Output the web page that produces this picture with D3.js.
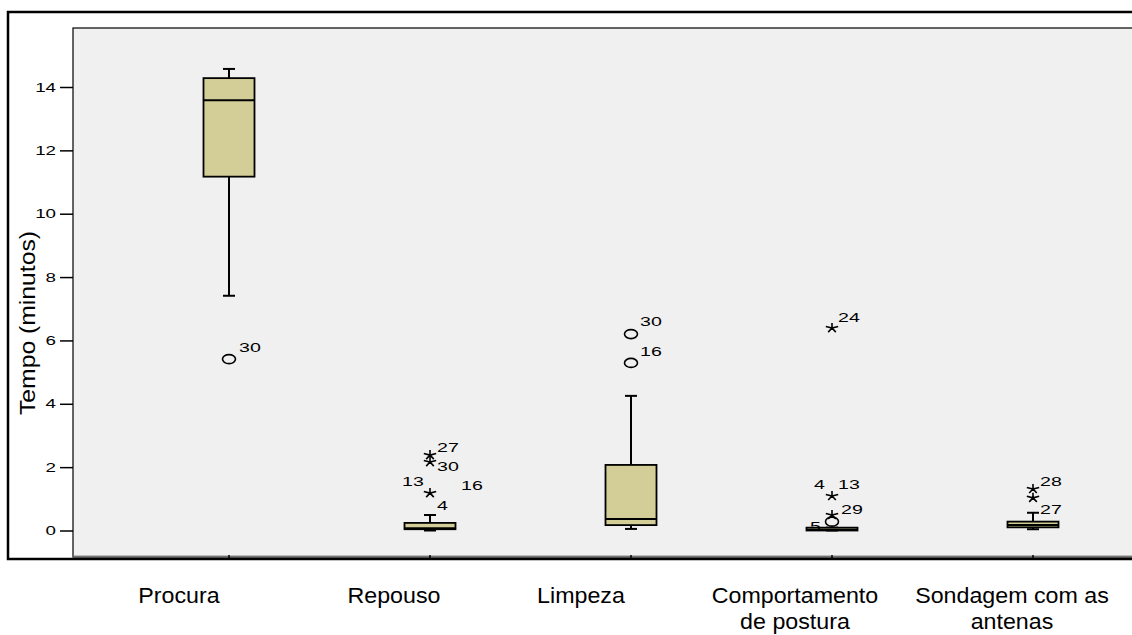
<!DOCTYPE html>
<html>
<head>
<meta charset="utf-8">
<script src="https://cdn.jsdelivr.net/npm/d3@7"></script>
<style>
  body { margin: 0; background: #fff; }
  svg text { font-family: Arial, "Liberation Sans", sans-serif; }
</style>
</head>
<body>
<svg id="chart" width="1132" height="635"></svg>
<script>
// categories and box statistics (minutes)
const categories = ['Procura', 'Repouso', 'Limpeza', 'Comportamento de postura', 'Sondagem com as antenas'];
const labelLines = [['Procura'], ['Repouso'], ['Limpeza'], ['Comportamento', 'de postura'], ['Sondagem com as', 'antenas']];
const labelShift = [-50, -36, -50, -37, -21];
const whiskerLow = [7.41, 0.0, 0.05, 0.0, 0.04];
const q1 = [11.17, 0.04, 0.17, 0.0, 0.1];
const median = [13.58, 0.07, 0.36, 0.02, 0.17];
const q3 = [14.28, 0.24, 2.07, 0.09, 0.28];
const whiskerHigh = [14.57, 0.49, 4.25, 0.09, 0.56];

// outliers: o = circle, * = extreme
const outlierCat = ['Procura', 'Repouso', 'Repouso', 'Repouso', 'Limpeza', 'Limpeza', 'Comportamento de postura', 'Comportamento de postura', 'Comportamento de postura', 'Comportamento de postura', 'Sondagem com as antenas', 'Sondagem com as antenas'];
const outlierVal = [5.41, 2.38, 2.16, 1.18, 6.2, 5.29, 6.39, 1.09, 0.49, 0.28, 1.31, 1.03];
const outlierType = ['o', '*', '*', '*', 'o', 'o', '*', '*', '*', 'o', '*', '*'];

// case numbers next to outliers
const caseText = ['30', '27', '30', '13', '16', '4', '30', '16', '24', '4', '13', '29', '5', '28', '27'];
const caseCat = ['Procura', 'Repouso', 'Repouso', 'Repouso', 'Repouso', 'Repouso', 'Limpeza', 'Limpeza', 'Comportamento de postura', 'Comportamento de postura', 'Comportamento de postura', 'Comportamento de postura', 'Comportamento de postura', 'Sondagem com as antenas', 'Sondagem com as antenas'];
const caseVal = [5.41, 2.38, 2.16, 1.18, 1.18, 1.18, 6.2, 5.29, 6.39, 1.09, 1.09, 0.49, 0.28, 1.31, 1.03];
const caseDx = [10, 7, 7, -28, 31, 7, 9, 9, 6, -18, 6, 9, -22, 7, 7];
const caseDy = [-7, -3, 9, -7, -3, 17, -8, -7, -6, -7, -7, -1, 9, -3, 16];

const yTicks = [0, 2, 4, 6, 8, 10, 12, 14];

const svg = d3.select('#chart');

const plot = { left: 73, top: 28, right: 1190, bottom: 557 };

// widen text like the reference rendering
function stretch(sel, k) {
    sel.each(function () {
        let w = this.getComputedTextLength();
        d3.select(this).attr('textLength', w * k).attr('lengthAdjust', 'spacingAndGlyphs');
    });
}

const y = d3.scaleLinear()
    .domain([0, 14])
    .range([530.5, 87]);

const x = d3.scalePoint()
    .domain(categories)
    .range([229, 1033]);

const boxW = 51;

// outer frame
svg.append('rect')
    .attr('x', 8).attr('y', 12)
    .attr('width', 1140).attr('height', 547)
    .attr('fill', '#fff')
    .attr('stroke', '#000')
    .attr('stroke-width', 2.5);

// plot area
svg.append('rect')
    .attr('x', plot.left).attr('y', plot.top)
    .attr('width', plot.right - plot.left).attr('height', plot.bottom - plot.top)
    .attr('fill', '#f0f0f0')
    .attr('stroke', '#000')
    .attr('stroke-width', 1.2);
svg.append('line')
    .attr('x1', plot.left).attr('x2', plot.right)
    .attr('y1', plot.bottom - 1).attr('y2', plot.bottom - 1)
    .attr('stroke', '#888').attr('stroke-width', 1);

// y axis
let yAxis = d3.axisLeft(y)
    .tickValues(yTicks)
    .tickSize(13)
    .tickPadding(4)
    .tickFormat(d3.format('d'));

let gy = svg.append('g')
    .attr('transform', `translate(${plot.left},0)`)
    .call(yAxis);
gy.select('.domain').remove();
gy.selectAll('.tick line').attr('stroke', '#000').attr('stroke-width', 1.5);
gy.selectAll('.tick text').attr('fill', '#000').style('font-size', '12.5px');
stretch(gy.selectAll('.tick text'), 1.5);

let yTitle = svg.append('text')
    .attr('transform', 'translate(35,323) rotate(-90)')
    .attr('text-anchor', 'middle')
    .style('font-size', '21.5px')
    .attr('fill', '#000')
    .text('Tempo (minutos)');
stretch(yTitle, 1.15);

// category ticks at the bottom
svg.append('g')
    .selectAll('line')
    .data(categories)
    .join('line')
    .attr('x1', d => x(d)).attr('x2', d => x(d))
    .attr('y1', plot.bottom - 2).attr('y2', plot.bottom + 3)
    .attr('stroke', '#000')
    .attr('stroke-width', 1.5);

let xl = svg.append('g')
    .selectAll('text')
    .data(categories)
    .join('text')
    .attr('x', (d, i) => x(d) + labelShift[i])
    .attr('y', 603)
    .attr('text-anchor', 'middle')
    .style('font-size', '21.5px')
    .attr('fill', '#000');
let xspans = xl.selectAll('tspan')
    .data((d, i) => labelLines[i])
    .join('tspan')
    .attr('x', function () { return d3.select(this.parentNode).attr('x'); })
    .attr('dy', (d, i) => i === 0 ? 0 : 26)
    .text(d => d);
stretch(xspans, 1.08);

// boxes
let boxes = svg.append('g')
    .selectAll('g')
    .data(categories)
    .join('g');

boxes.append('line')
    .attr('x1', d => x(d)).attr('x2', d => x(d))
    .attr('y1', (d, i) => y(whiskerHigh[i]))
    .attr('y2', (d, i) => y(q3[i]))
    .attr('stroke', '#000').attr('stroke-width', 2);
boxes.append('line')
    .attr('x1', d => x(d)).attr('x2', d => x(d))
    .attr('y1', (d, i) => y(whiskerLow[i]))
    .attr('y2', (d, i) => y(q1[i]))
    .attr('stroke', '#000').attr('stroke-width', 2);
boxes.append('line')
    .attr('x1', d => x(d) - 6).attr('x2', d => x(d) + 6)
    .attr('y1', (d, i) => y(whiskerHigh[i]))
    .attr('y2', (d, i) => y(whiskerHigh[i]))
    .attr('stroke', '#000').attr('stroke-width', 2);
boxes.append('line')
    .attr('x1', d => x(d) - 6).attr('x2', d => x(d) + 6)
    .attr('y1', (d, i) => y(whiskerLow[i]))
    .attr('y2', (d, i) => y(whiskerLow[i]))
    .attr('stroke', '#000').attr('stroke-width', 2);

boxes.append('rect')
    .attr('x', d => x(d) - boxW / 2)
    .attr('width', boxW)
    .attr('y', (d, i) => y(q3[i]))
    .attr('height', (d, i) => Math.max(2, y(q1[i]) - y(q3[i])))
    .attr('fill', '#d3ce98')
    .attr('stroke', '#000')
    .attr('stroke-width', 1.8);

boxes.append('line')
    .attr('x1', d => x(d) - boxW / 2).attr('x2', d => x(d) + boxW / 2)
    .attr('y1', (d, i) => y(median[i]))
    .attr('y2', (d, i) => y(median[i]))
    .attr('stroke', '#000').attr('stroke-width', 2);

// outliers
let outs = svg.append('g')
    .selectAll('g')
    .data(outlierVal)
    .join('g')
    .attr('transform', (d, i) => `translate(${x(outlierCat[i])},${y(d)})`);

outs.filter((d, i) => outlierType[i] === 'o')
    .append('ellipse')
    .attr('rx', 6.5).attr('ry', 4.5)
    .attr('fill', 'none')
    .attr('stroke', '#000')
    .attr('stroke-width', 1.6);

// five-armed asterisk
const starPath = d3.range(5).map(k => {
    let a = -Math.PI / 2 + k * 2 * Math.PI / 5;
    return `M0,0L${(6.5 * Math.cos(a)).toFixed(2)},${(5 * Math.sin(a)).toFixed(2)}`;
}).join('');

outs.filter((d, i) => outlierType[i] === '*')
    .append('path')
    .attr('d', starPath)
    .attr('fill', 'none')
    .attr('stroke', '#000')
    .attr('stroke-width', 1.6);

// case numbers
let cases = svg.append('g')
    .selectAll('text')
    .data(caseText)
    .join('text')
    .attr('x', (d, i) => x(caseCat[i]) + caseDx[i])
    .attr('y', (d, i) => y(caseVal[i]) + caseDy[i])
    .style('font-size', '13.5px')
    .attr('fill', '#000')
    .text(d => d);
stretch(cases, 1.45);
</script>
</body>
</html>
